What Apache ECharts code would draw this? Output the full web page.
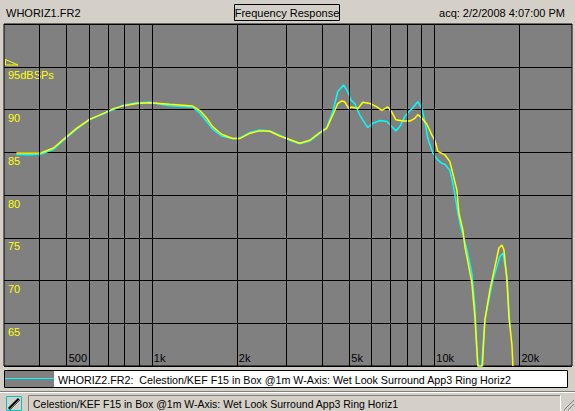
<!DOCTYPE html>
<html>
<head>
<meta charset="utf-8">
<script src="https://cdn.jsdelivr.net/npm/echarts@6/dist/echarts.min.js"></script>
<style>
html,body{margin:0;padding:0;background:#d4d0c8;}
#c{width:575px;height:411px;}
</style>
</head>
<body>
<div id="c"></div>
<script>
// ---- data ----
const yellowFreq = [332,369,407,449,499,542,602,675,732,795,884,982,1156,1395,1477,1564,1642,1767,1933,2046,2221,2409,2614,2836,3077,3339,3622,3930,4162,4371,4553,4704,4820,4979,5103,5359,5582,5911,6259,6518,6680,6845,7072,7307,7738,8191,8533,8745,9035,9411,9800,10042,10290,10895,11348,11630,12016,12214,12618,12825,13036,13578,13913,14142,14258,14800,14900,15097,15725,16379,16923,17342,17628,18064,18361,18815,18970];
const yellowDb = [84.9,84.9,84.95,85.5,86.8,87.8,88.85,89.55,90.1,90.45,90.7,90.8,90.6,90.4,89.9,89.0,88.0,87.1,86.6,86.6,87.2,87.5,87.45,86.9,86.5,86.05,86.4,87.3,87.8,89.35,90.7,91.0,90.9,90.1,90.3,90.1,90.85,90.7,90.3,89.9,90.1,90.3,89.7,88.8,88.65,88.65,88.97,89.4,89.0,88.27,87.0,86.4,85.1,84.7,83.9,82.5,80.6,77.9,75.9,73.95,72.8,69.7,65.8,61.9,60,60,62.0,65.4,68.9,71.6,73.8,74.15,73.6,70.1,65.8,62.5,60];
const cyanFreq = [332,369,407,449,499,542,602,675,732,795,884,982,1156,1395,1477,1564,1642,1767,1933,2046,2221,2409,2614,2836,3077,3339,3622,3930,4162,4371,4553,4772,4899,5070,5230,5447,5674,5815,6058,6413,6790,7072,7307,7550,7866,8326,8745,9035,9259,9484,9879,10290,10631,10895,11348,11630,12016,12313,12825,13036,13578,13913,14142,14258,14700,15097,16114,17061,17484,18064,18511];
const cyanDb = [84.75,84.7,84.8,85.35,86.7,87.7,88.8,89.5,90.0,90.5,90.8,90.85,90.45,90.3,89.6,88.6,87.7,86.9,86.6,86.65,87.3,87.6,87.5,87.0,86.4,86.0,86.3,87.2,87.9,89.74,92.1,92.87,92.3,91.1,90.7,89.35,88.4,87.9,88.4,88.7,88.6,88.0,87.5,88.0,89.2,90.1,90.9,90.1,88.6,86.6,84.9,84.1,83.7,83.6,82.9,81.4,78.6,76.7,74.5,73.6,70.8,66.9,61.9,60,60,65.4,70.1,72.8,73.2,70.5,64.5];
const gridFreqs = [400,500,600,700,800,900,1000,2000,3000,4000,5000,6000,7000,8000,9000,10000,20000];
const xLabelValues = [500,1000,2000,5000,10000,20000];
const xLabelTexts = ['500','1k','2k','5k','10k','20k'];
const yLabelValues = [95,90,85,80,75,70,65];
const yLabelTexts = ['95dBSPs','90','85','80','75','70','65'];
const topLeftText = 'WHORIZ1.FR2';
const titleText = 'Frequency Response';
const topRightText = 'acq: 2/2/2008 4:07:00 PM';
const legendText = 'WHORIZ2.FR2:  Celestion/KEF F15 in Box @1m W-Axis: Wet Look Surround App3 Ring Horiz2';
const statusText = 'Celestion/KEF F15 in Box @1m W-Axis: Wet Look Surround App3 Ring Horiz1';

const FONT = "'Liberation Sans', Arial, sans-serif";
const zip = (a, b) => a.map((v, i) => [v, b[i]]);

const chart = echarts.init(document.getElementById('c'), null, {renderer: 'svg'});
chart.setOption({
  backgroundColor: '#d4d0c8',
  animation: false,
  textStyle: {fontFamily: FONT},
  grid: {left: 4, top: 24, width: 568, height: 342, show: true, backgroundColor: '#808080', borderColor: '#000', borderWidth: 1},
  xAxis: {
    type: 'log', logBase: 10, min: 300, max: 30700,
    axisLine: {show: false}, axisTick: {show: false}, splitLine: {show: false},
    axisLabel: {
      customValues: xLabelValues, inside: true, margin: 3,
      align: 'left', padding: [0, 0, 0, 2],
      color: '#000', fontSize: 11, fontFamily: FONT,
      formatter: v => { const i = xLabelValues.findIndex(x => Math.abs(x - v) < 1); return i >= 0 ? xLabelTexts[i] : ''; }
    }
  },
  yAxis: {
    type: 'value', min: 60, max: 100, interval: 5,
    axisLine: {show: false}, axisTick: {show: false},
    splitLine: {show: true, lineStyle: {color: '#000', width: 1}},
    axisLabel: {
      inside: true, margin: 4, verticalAlign: 'top', padding: [3, 0, 0, 0],
      color: '#ffff00', fontSize: 11, fontFamily: FONT,
      formatter: v => { const i = yLabelValues.indexOf(v); return i >= 0 ? yLabelTexts[i] : ''; }
    }
  },
  graphic: [
    {type: 'text', x: 6, y: 13, style: {text: topLeftText, fontSize: 11, fontFamily: FONT, fill: '#000', verticalAlign: 'middle'}},
    {type: 'rect', shape: {x: 234.5, y: 4.5, width: 105, height: 16}, style: {fill: 'none', stroke: '#000', lineWidth: 1}},
    {type: 'text', x: 287, y: 13, style: {text: titleText, fontSize: 11, fontFamily: FONT, fill: '#000', align: 'center', verticalAlign: 'middle'}},
    {type: 'text', x: 565, y: 13, style: {text: topRightText, fontSize: 11, fontFamily: FONT, fill: '#000', align: 'right', verticalAlign: 'middle'}},
    {type: 'polygon', shape: {points: [[5.5, 59.5], [5.5, 65], [18, 65]]}, style: {fill: 'none', stroke: '#ffff00', lineWidth: 1}, z: 100},
    // legend
    {type: 'rect', shape: {x: 4.5, y: 370.5, width: 563, height: 17}, style: {fill: '#fff', stroke: '#000', lineWidth: 1}},
    {type: 'rect', shape: {x: 5, y: 371, width: 49, height: 16}, style: {fill: '#808080'}},
    {type: 'line', shape: {x1: 5, y1: 378.5, x2: 54, y2: 378.5}, style: {stroke: '#00ffff', lineWidth: 1}},
    {type: 'text', x: 58, y: 379.5, style: {text: legendText, fontSize: 10.7, fontFamily: FONT, fill: '#000', verticalAlign: 'middle'}},
    // status bar
    {type: 'line', shape: {x1: 0, y1: 391.5, x2: 575, y2: 391.5}, style: {stroke: '#808080', lineWidth: 1}},
    {type: 'line', shape: {x1: 0, y1: 392.5, x2: 575, y2: 392.5}, style: {stroke: '#fff', lineWidth: 1}},
    {type: 'rect', shape: {x: 6.5, y: 396.5, width: 15, height: 14}, style: {fill: '#d4d0c8', stroke: '#00c8c8', lineWidth: 1}},
    {type: 'line', shape: {x1: 9, y1: 409, x2: 19, y2: 399}, style: {stroke: '#000', lineWidth: 3}},
    {type: 'line', shape: {x1: 10, y1: 409, x2: 20, y2: 399}, style: {stroke: '#808080', lineWidth: 1}},
    {type: 'polyline', shape: {points: [[28.5, 411], [28.5, 395.5], [560, 395.5]]}, style: {stroke: '#808080', fill: 'none', lineWidth: 1}},
    {type: 'polyline', shape: {points: [[560.5, 395.5], [560.5, 411]]}, style: {stroke: '#fff', fill: 'none', lineWidth: 1}},
    {type: 'text', x: 33, y: 404, style: {text: statusText, fontSize: 10.5, fontFamily: FONT, fill: '#000', verticalAlign: 'middle'}},
    {type: 'line', shape: {x1: 564, y1: 410, x2: 574, y2: 400}, style: {stroke: '#808080', lineWidth: 1}},
    {type: 'line', shape: {x1: 568, y1: 410, x2: 574, y2: 404}, style: {stroke: '#808080', lineWidth: 1}}
  ],
  series: [
    {
      type: 'line', data: [], z: 1, silent: true,
      markLine: {
        silent: true, symbol: 'none', animation: false,
        label: {show: false},
        lineStyle: {color: '#000', type: 'solid', width: 1},
        data: gridFreqs.map(f => ({xAxis: f}))
      }
    },
    {type: 'line', name: 'WHORIZ2.FR2', data: zip(cyanFreq, cyanDb), showSymbol: false, z: 3,
     lineStyle: {color: '#00ffff', width: 1.5}, itemStyle: {color: '#00ffff'}},
    {type: 'line', name: 'WHORIZ1.FR2', data: zip(yellowFreq, yellowDb), showSymbol: false, z: 4,
     lineStyle: {color: '#ffff00', width: 1.5}, itemStyle: {color: '#ffff00'}}
  ]
});
</script>
</body>
</html>
